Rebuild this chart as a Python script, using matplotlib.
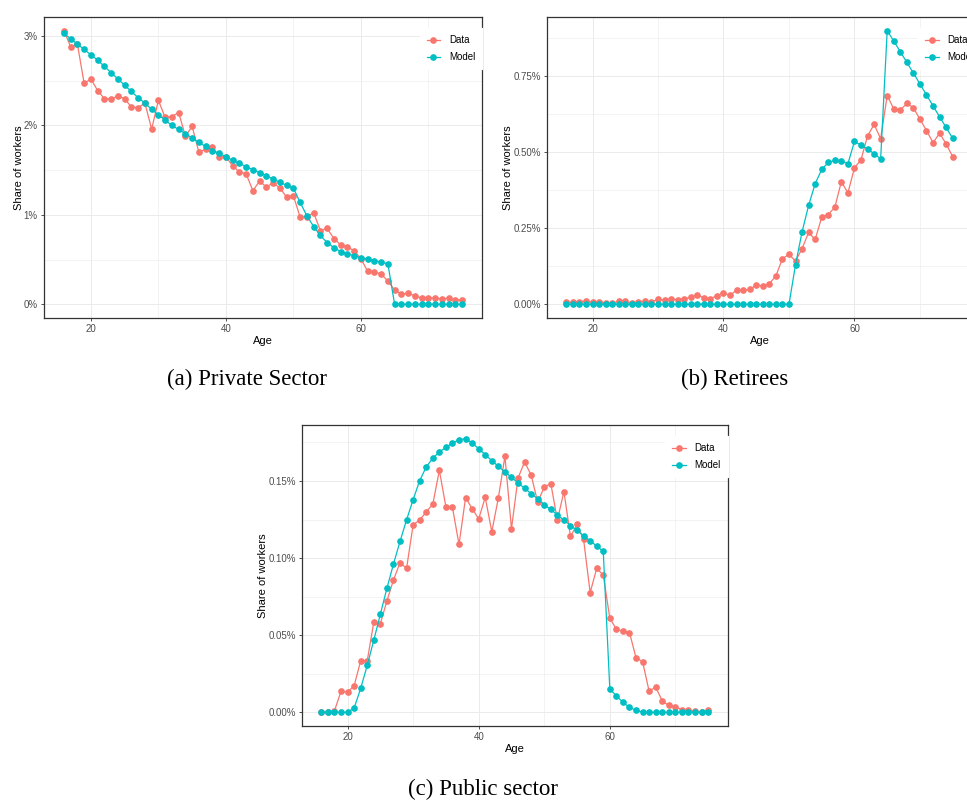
import numpy as np
import matplotlib
matplotlib.use("Agg")
import matplotlib.pyplot as plt
from matplotlib.ticker import MultipleLocator, PercentFormatter

# ages 16..75
ages = np.arange(16, 76)

# (a) private sector, share of workers in %
private_data = [3.06, 2.88, 2.91, 2.47, 2.52, 2.39, 2.30, 2.295, 2.33, 2.30,
                2.205, 2.20, 2.25, 1.96, 2.28, 2.09, 2.10, 2.145, 1.88, 1.99,
                1.70, 1.735, 1.755, 1.65, 1.65, 1.55, 1.48, 1.46, 1.27, 1.38,
                1.31, 1.36, 1.30, 1.20, 1.215, 0.975, 0.98, 1.025, 0.825, 0.85,
                0.735, 0.665, 0.64, 0.60, 0.51, 0.37, 0.36, 0.34, 0.26, 0.16,
                0.115, 0.125, 0.095, 0.07, 0.075, 0.07, 0.06, 0.07, 0.05, 0.05]
private_model = [3.03, 2.97, 2.91, 2.85, 2.79, 2.73, 2.66, 2.59, 2.52, 2.45,
                 2.38, 2.31, 2.25, 2.18, 2.12, 2.06, 2.00, 1.955, 1.91, 1.86,
                 1.81, 1.765, 1.72, 1.69, 1.65, 1.61, 1.575, 1.54, 1.505, 1.47,
                 1.44, 1.40, 1.365, 1.33, 1.30, 1.14, 0.99, 0.87, 0.77, 0.69,
                 0.635, 0.59, 0.565, 0.545, 0.52, 0.505, 0.49, 0.47, 0.455, 0.0,
                 0.0, 0.0, 0.0, 0.0, 0.0, 0.0, 0.0, 0.0, 0.0, 0.0]

# (b) retirees
retiree_data = [0.0066, 0.0066, 0.009, 0.011, 0.0066, 0.009, 0.005, 0.003, 0.010, 0.010,
                0.004, 0.008, 0.011, 0.008, 0.016, 0.014, 0.019, 0.014, 0.017, 0.024,
                0.032, 0.020, 0.019, 0.028, 0.038, 0.029, 0.047, 0.046, 0.049, 0.063,
                0.060, 0.068, 0.093, 0.150, 0.164, 0.142, 0.183, 0.236, 0.213, 0.286,
                0.295, 0.319, 0.403, 0.366, 0.448, 0.475, 0.553, 0.591, 0.544, 0.686,
                0.642, 0.638, 0.660, 0.646, 0.608, 0.571, 0.531, 0.562, 0.527, 0.485]
retiree_model = [0.0] * 35 + [0.130, 0.238, 0.325, 0.396, 0.443,
                              0.466, 0.473, 0.470, 0.462, 0.535, 0.523, 0.510, 0.495, 0.478, 0.899,
                              0.865, 0.830, 0.795, 0.760, 0.724, 0.688, 0.652, 0.616, 0.581, 0.545]

# (c) public sector
public_data = [0.0, 0.0, 0.001, 0.0136, 0.0131, 0.0172, 0.0334, 0.0334, 0.0584, 0.0575,
               0.0722, 0.0858, 0.0970, 0.0933, 0.1216, 0.1246, 0.1300, 0.1349, 0.1569, 0.1332,
               0.1328, 0.1088, 0.1392, 0.1321, 0.1254, 0.1394, 0.1170, 0.1390, 0.1659, 0.1190,
               0.1519, 0.1623, 0.1539, 0.1362, 0.1461, 0.1483, 0.1246, 0.1431, 0.1140, 0.1218,
               0.1121, 0.0776, 0.0933, 0.0890, 0.0610, 0.0539, 0.0526, 0.0517, 0.0353, 0.0328,
               0.0136, 0.0164, 0.0073, 0.0045, 0.0037, 0.0017, 0.0015, 0.0006, 0.0, 0.0017]
public_model = [0.0, 0.0, 0.0, 0.0, 0.0, 0.0028, 0.0155, 0.0304, 0.0468, 0.0636,
                0.0804, 0.0961, 0.1108, 0.1248, 0.1379, 0.1502, 0.1591, 0.1647, 0.1688, 0.1718,
                0.1746, 0.1767, 0.1774, 0.1746, 0.1709, 0.1670, 0.1631, 0.1595, 0.1558, 0.1524,
                0.1487, 0.1453, 0.1418, 0.1384, 0.1347, 0.1315, 0.1280, 0.1246, 0.1211, 0.1179,
                0.1144, 0.1112, 0.1078, 0.1043, 0.0151, 0.0106, 0.0065, 0.0032, 0.0013, 0.0002,
                0.0, 0.0, 0.0, 0.0, 0.0, 0.0, 0.0, 0.0, 0.0, 0.0]

captions = ["(a) Private Sector", "(b) Retirees", "(c) Public sector"]

RED = "#F8766D"
CYAN = "#00BFC4"
SANS = ["Liberation Sans", "DejaVu Sans"]

fig = plt.figure(figsize=(9.67, 8), dpi=100)


def panel(rect, data, model, major, decimals, leg_x=1.0):
    ax = fig.add_axes(rect)
    ax.plot(ages, data, color=RED, lw=0.9, marker="o", ms=3.8, label="Data", zorder=3)
    ax.plot(ages, model, color=CYAN, lw=0.9, marker="o", ms=3.8, label="Model", zorder=3)

    # ggplot-like 5% expansion
    xr = ages.max() - ages.min()
    ax.set_xlim(ages.min() - 0.05 * xr, ages.max() + 0.05 * xr)
    lo = min(min(data), min(model))
    hi = max(max(data), max(model))
    ax.set_ylim(lo - 0.05 * (hi - lo), hi + 0.05 * (hi - lo))

    ax.xaxis.set_major_locator(MultipleLocator(20))
    ax.xaxis.set_minor_locator(MultipleLocator(10))
    ax.yaxis.set_major_locator(MultipleLocator(major))
    ax.yaxis.set_minor_locator(MultipleLocator(major / 2))
    ax.yaxis.set_major_formatter(PercentFormatter(xmax=100, decimals=decimals))

    ax.grid(which="major", color="#EBEBEB", lw=0.7, zorder=0)
    ax.grid(which="minor", color="#EBEBEB", lw=0.4, zorder=0)
    ax.set_axisbelow(True)
    ax.tick_params(which="major", length=2.5, width=0.6, color="#333333",
                   labelsize=7, labelcolor="#4D4D4D", pad=2)
    ax.tick_params(which="minor", length=0)
    for lab in ax.get_xticklabels() + ax.get_yticklabels():
        lab.set_family(SANS)
    for s in ax.spines.values():
        s.set_color("#333333")
        s.set_linewidth(0.9)

    ax.set_xlabel("Age", fontsize=8, family=SANS, labelpad=1)
    ax.set_ylabel("Share of workers", fontsize=8, family=SANS, labelpad=0)

    leg = ax.legend(loc="upper right", bbox_to_anchor=(leg_x, 0.963), borderaxespad=0,
                    prop={"family": SANS, "size": 7}, frameon=True, fancybox=False,
                    handlelength=1.4, handletextpad=0.9, labelspacing=0.75,
                    borderpad=0.7)
    leg.get_frame().set_facecolor("white")
    leg.get_frame().set_edgecolor("white")
    leg.get_frame().set_alpha(1)
    leg.set_zorder(10)
    return ax


panel([44 / 967, 1 - 318 / 800, 438 / 967, 301 / 800], private_data, private_model, 1, 0)
panel([547 / 967, 1 - 318 / 800, 425 / 967, 301 / 800], retiree_data, retiree_model, 0.25, 2,
      leg_x=1.02)
panel([302 / 967, 1 - 726 / 800, 425.5 / 967, 301 / 800], public_data, public_model, 0.05, 2)

SERIF = ["Liberation Serif", "DejaVu Serif"]
fig.text(247 / 967, 1 - 379 / 800, captions[0], ha="center", va="center", fontsize=16.5, family=SERIF)
fig.text(735 / 967, 1 - 379 / 800, captions[1], ha="center", va="center", fontsize=16.5, family=SERIF)
fig.text(483 / 967, 1 - 789 / 800, captions[2], ha="center", va="center", fontsize=16.5, family=SERIF)

fig.savefig("out.png", dpi=100)
